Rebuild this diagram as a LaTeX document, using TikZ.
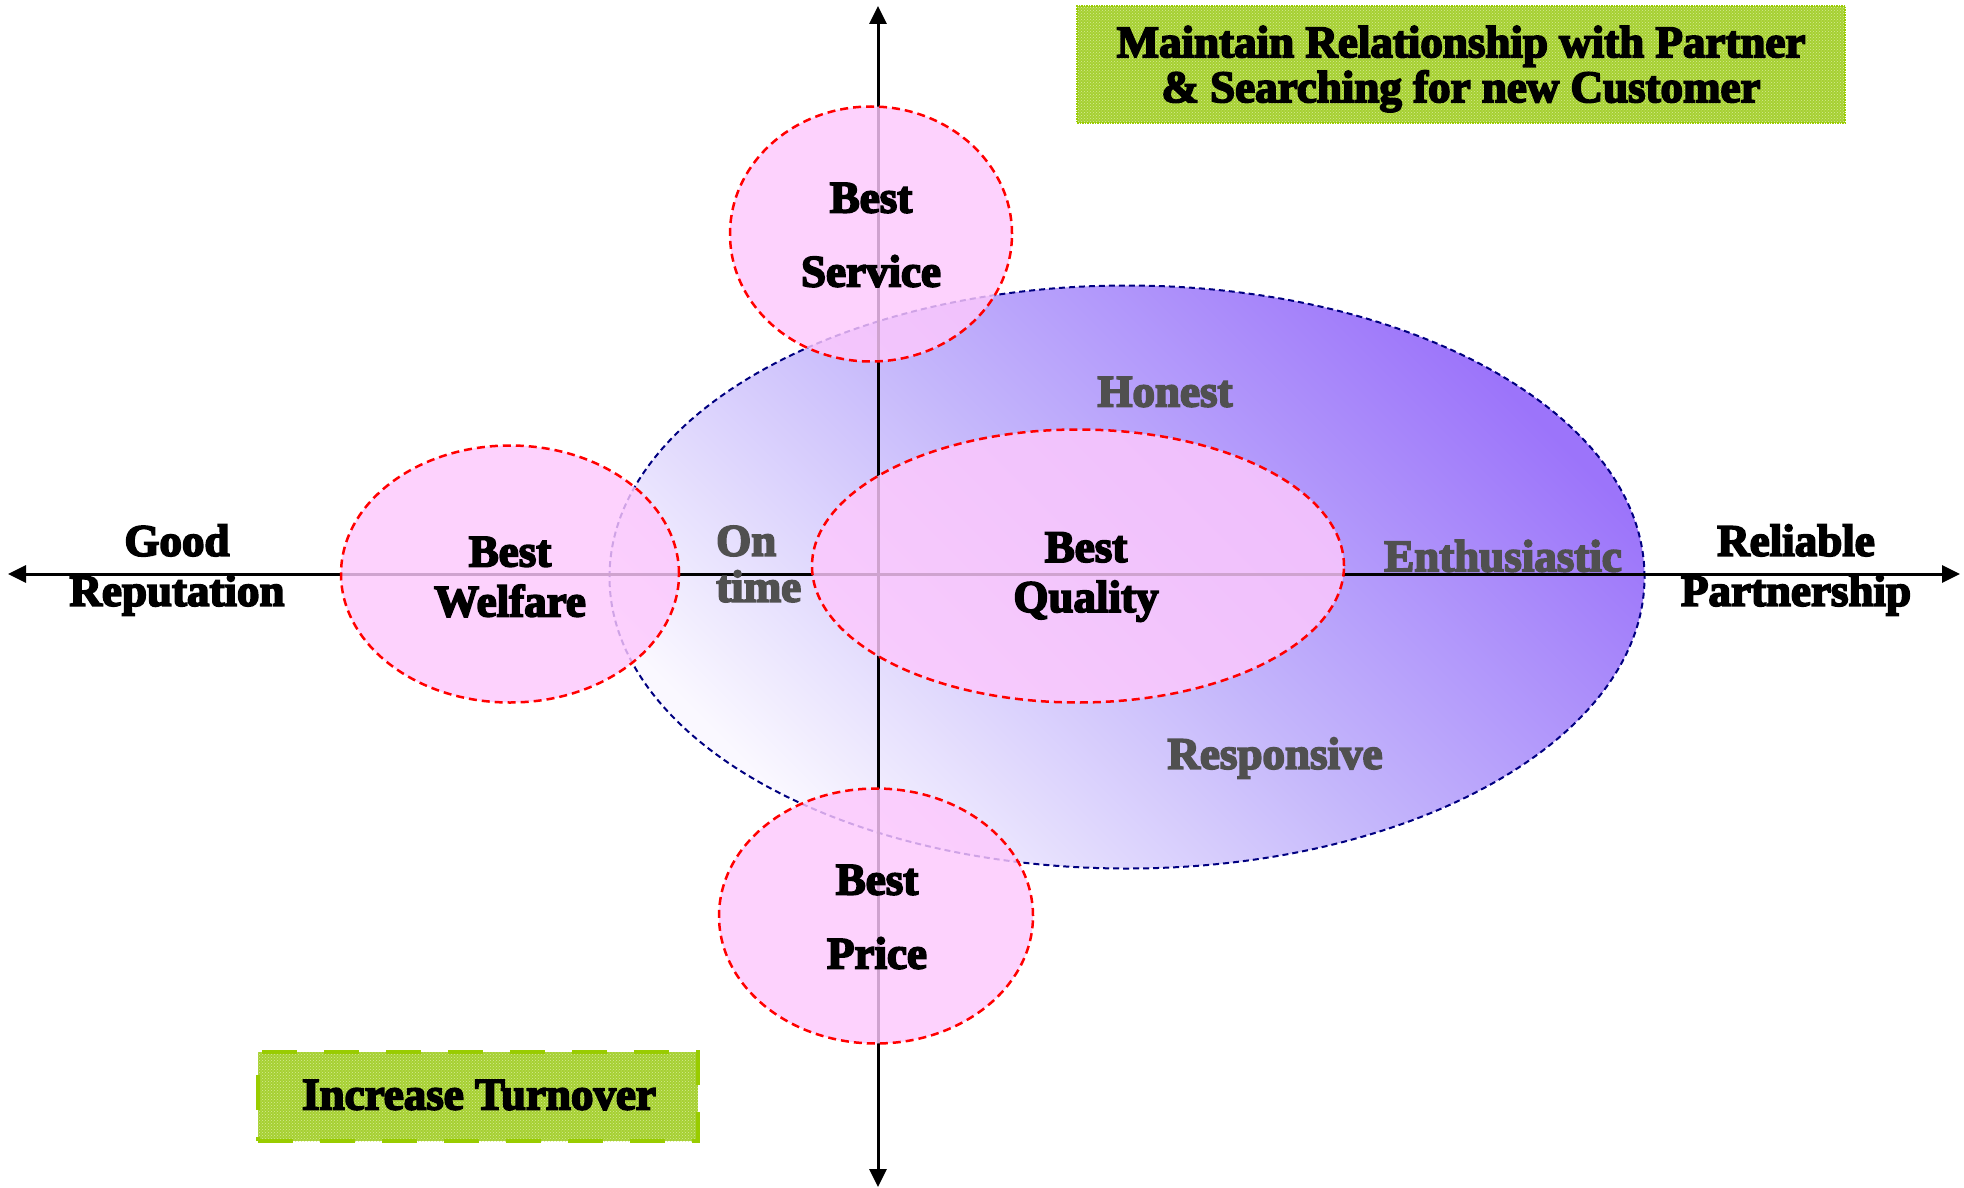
\documentclass[tikz,border=0pt]{standalone}
\usepackage{fontspec}
\newfontfamily\heavy{Liberation Serif}[BoldFeatures={FakeBold=4}]
\usetikzlibrary{arrows.meta,shapes.geometric,patterns}
\definecolor{ringdark}{RGB}{156,116,250}
\definecolor{ringmid}{RGB}{196,182,251}
\definecolor{ringlight}{RGB}{250,248,255}
\definecolor{pinkfill}{RGB}{253,200,253}
\definecolor{navyline}{RGB}{0,0,128}
\definecolor{grn}{RGB}{166,208,50}
\definecolor{grnlight}{RGB}{214,236,150}
\definecolor{grnline}{RGB}{153,204,0}
\definecolor{greytext}{RGB}{80,80,80}
\tikzset{
  lbl/.style={font=\heavy\bfseries\fontsize{45}{50}\selectfont, align=center, inner sep=0pt},
  soft/.style={lbl, text=greytext},
  petal/.style={ellipse, draw=red, line width=2.5pt, dash pattern=on 8pt off 5pt,
    fill=pinkfill, fill opacity=0.82, inner sep=0pt},
  axisline/.style={line width=3pt, {Triangle[length=18pt,width=17pt]}-{Triangle[length=18pt,width=17pt]}},
  ringstyle/.style={ellipse, draw=navyline, line width=2pt, dash pattern=on 6pt off 4pt,
    shading=axis, bottom color=ringlight, top color=ringdark, middle color=ringmid, shading angle=-45},
  greenbox/.style={lbl, preaction={fill=grn}, pattern=crosshatch dots, pattern color=grnlight}
}
\begin{document}
\begin{tikzpicture}[x=1pt,y=-1pt]
\useasboundingbox (0,0) rectangle (1964,1188);
% big ring
\node[ringstyle, minimum width=1035pt, minimum height=583pt] (ring) at (1127,577) {};
% axes
\coordinate (W) at (8,574);
\coordinate (E) at (1960,574);
\coordinate (N) at (878,6);
\coordinate (S) at (878,1187);
\draw[axisline] (W) -- (E);
\draw[axisline] (S) -- (N);
% petals
\node[petal, minimum width=282pt, minimum height=255pt] (service) at (871,234) {};
\node[petal, minimum width=314pt, minimum height=255pt] (price) at (876,916) {};
\node[petal, minimum width=338pt, minimum height=257pt] (welfare) at (510,574) {};
\node[petal, minimum width=532pt, minimum height=273pt] (quality) at (1078,566) {};
% petal labels
\node[lbl, font=\heavy\bfseries\fontsize{45}{74}\selectfont] (serviceT) at (871,235) {Best\\Service};
\node[lbl, font=\heavy\bfseries\fontsize{45}{74}\selectfont] (priceT) at (877,917) {Best\\Price};
\node[lbl] (welfareT) at (510,577) {Best\\Welfare};
\node[lbl] (qualityT) at (1086,577) {Best\\Quality};
% axis labels
\node[lbl] (good) at (177,570) {Good\\Reputation};
\node[lbl] (reliable) at (1796,570) {Reliable\\Partnership};
% soft labels
\node[soft] (honest) at (1165,392) {Honest};
\node[soft, align=left, anchor=west, font=\heavy\bfseries\fontsize{45}{46}\selectfont] (ontime) at (716,564) {On\\time};
\node[soft] (enth) at (1503,556) {Enthusiastic};
\node[soft] (resp) at (1275,758) {Responsive};
% goal boxes
\node[greenbox, draw=grnline, line width=1.5pt, densely dotted, minimum width=768pt, minimum height=117pt] (goal) at (1461,64.5) {};
\node[lbl, font=\heavy\bfseries\fontsize{45}{45}\selectfont] (goalT) at (1461,69) {Maintain Relationship with Partner\\\& Searching for new Customer};
\node[greenbox, draw=grnline, line width=4pt, dash pattern=on 35pt off 27pt, minimum width=440pt, minimum height=89pt] (turnover) at (478,1096.5) {};
\node[lbl] (turnoverT) at (479,1095) {Increase Turnover};
\end{tikzpicture}
\end{document}
